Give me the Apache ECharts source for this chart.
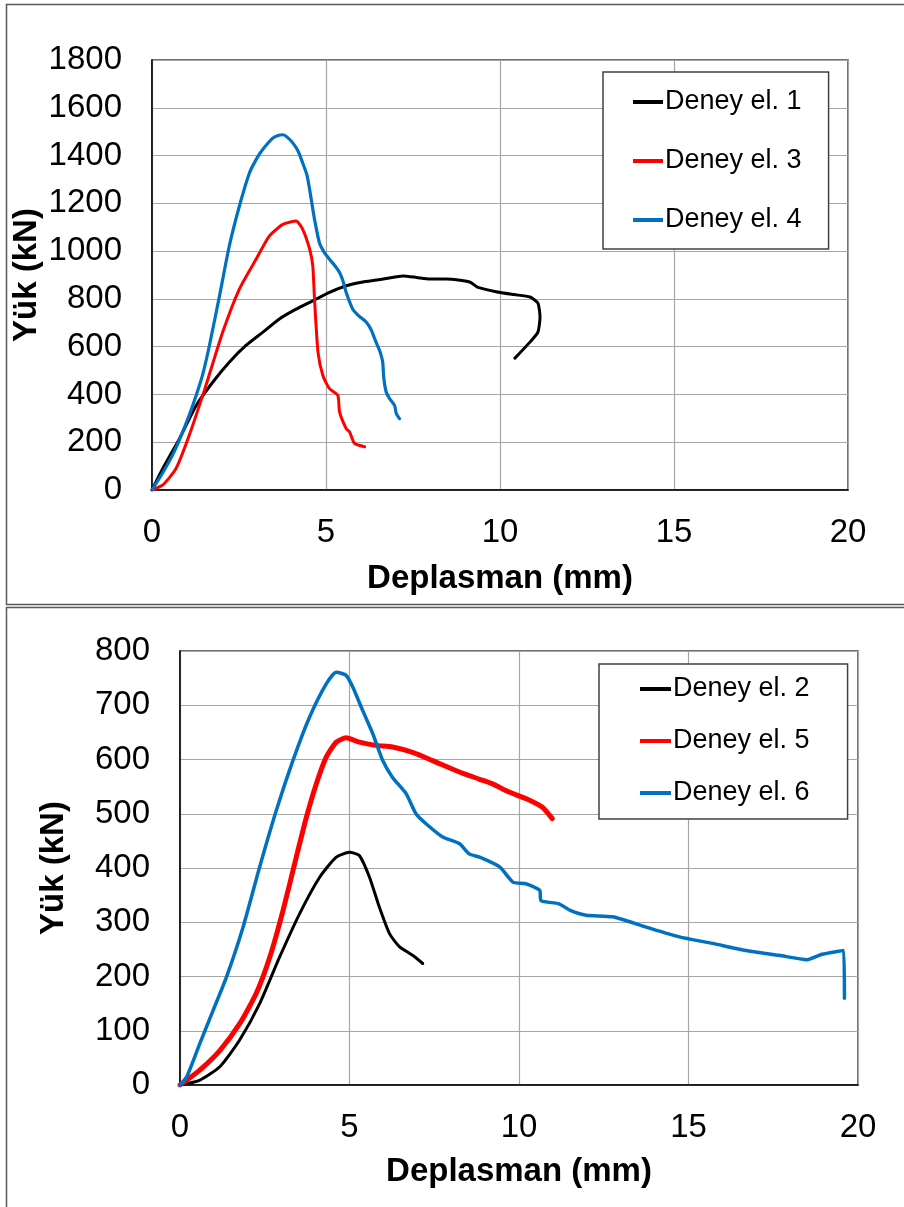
<!DOCTYPE html>
<html>
<head>
<meta charset="utf-8">
<script src="https://cdn.jsdelivr.net/npm/echarts@6/dist/echarts.min.js"></script>
<style>
html,body{margin:0;padding:0;background:#fff;}
#c{width:904px;height:1207px;}
</style>
</head>
<body>
<div id="c"></div>
<script>
// ---------- data ----------
const xTicks = [0, 5, 10, 15, 20];
const xTitle = 'Deplasman (mm)';
const yTitle = 'Yük (kN)';

// Top chart
const topNames = ['Deney el. 1', 'Deney el. 3', 'Deney el. 4'];
const deney1 = [[0,0],[0.31,90],[0.79,215],[1.27,354],[1.75,452],[2.22,535],[2.70,605],[3.18,660],[3.66,716],[4.14,757],[4.62,792],[5.10,827],[5.58,855],[6.06,871],[6.40,878],[6.73,885],[7.21,896],[7.60,890],[7.98,883],[8.46,883],[9.13,871],[9.37,848],[9.89,830],[10.40,818],[10.86,808],[11.09,782],[11.15,724],[11.09,661],[10.86,619],[10.43,552]];
const deney3 = [[0,0],[0.31,21],[0.69,90],[1.07,229],[1.55,438],[2.03,660],[2.51,841],[2.99,966],[3.37,1063],[3.76,1112],[4.14,1126],[4.33,1091],[4.53,1008],[4.62,938],[4.67,799],[4.77,577],[4.91,479],[5.10,424],[5.34,396],[5.39,327],[5.58,257],[5.68,243],[5.82,195],[6.11,181]];
const deney4 = [[0,0],[0.30,70],[0.59,146],[0.90,250],[1.17,354],[1.45,480],[1.65,605],[1.95,820],[2.22,1021],[2.51,1188],[2.80,1327],[3.00,1385],[3.18,1425],[3.47,1473],[3.62,1484],[3.76,1487],[3.90,1475],[4.05,1452],[4.20,1418],[4.33,1369],[4.45,1320],[4.53,1258],[4.60,1195],[4.67,1133],[4.81,1035],[4.95,995],[5.10,966],[5.25,940],[5.39,910],[5.50,870],[5.58,827],[5.77,757],[5.95,728],[6.16,702],[6.30,670],[6.44,618],[6.55,580],[6.63,535],[6.66,470],[6.73,410],[6.83,382],[6.97,354],[7.02,320],[7.11,299]];
const topYTicks = [0, 200, 400, 600, 800, 1000, 1200, 1400, 1600, 1800];

// Bottom chart
const botNames = ['Deney el. 2', 'Deney el. 5', 'Deney el. 6'];
const deney2 = [[0,0],[0.59,9],[1.18,34],[1.76,83],[2.35,150],[2.94,236],[3.53,316],[4.12,383],[4.61,420],[5.00,429],[5.29,423],[5.59,383],[5.88,328],[6.18,279],[6.47,255],[6.86,239],[7.16,224]];
const deney5 = [[0,0],[0.59,28],[1.18,64],[1.76,113],[2.25,169],[2.65,236],[3.04,322],[3.43,420],[3.73,494],[4.02,555],[4.31,604],[4.61,632],[4.90,640],[5.29,632],[5.78,626],[6.27,623],[6.86,613],[7.45,598],[8.24,577],[8.82,564],[9.22,555],[9.71,540],[10.20,528],[10.69,512],[10.98,491]];
const deney6 = [[0,0],[0.20,15],[0.59,77],[0.98,138],[1.37,199],[1.86,291],[2.35,402],[2.84,506],[3.33,598],[3.82,678],[4.31,739],[4.61,761],[4.90,755],[5.10,733],[5.39,690],[5.69,647],[5.98,598],[6.27,567],[6.67,537],[6.96,500],[7.25,482],[7.75,457],[8.24,445],[8.53,426],[8.84,420],[9.43,402],[9.82,374],[10.20,371],[10.61,359],[10.65,340],[11.18,334],[11.51,322],[11.98,313],[12.76,310],[13.75,291],[14.73,273],[15.71,261],[16.69,248],[17.67,239],[18.50,231],[18.94,241],[19.58,248],[19.60,160]];
const botYTicks = [0, 100, 200, 300, 400, 500, 600, 700, 800];

// ---------- chart ----------
const FONT = '"Liberation Sans", Arial, sans-serif';
const colors = ['#000000', '#FF0000', '#0070C0'];

function xAxisCfg(gridIndex, nameGap) {
  return {
    type: 'value', gridIndex, min: xTicks[0], max: xTicks[xTicks.length - 1],
    interval: xTicks[1] - xTicks[0],
    name: xTitle, nameLocation: 'middle', nameGap, nameMoveOverlap: false,
    nameTextStyle: {fontFamily: FONT, fontSize: 33, fontWeight: 'bold', color: '#000'},
    axisLine: {show: true, lineStyle: {color: '#000', width: 1.5}},
    axisTick: {show: false},
    axisLabel: {fontFamily: FONT, fontSize: 33, color: '#000', margin: 26, formatter: v => String(v)},
    splitLine: {show: true, lineStyle: {color: '#A6A6A6', width: 1.2}}
  };
}
function yAxisCfg(gridIndex, ticks, nameGap) {
  return {
    type: 'value', gridIndex, min: ticks[0], max: ticks[ticks.length - 1],
    interval: ticks[1] - ticks[0],
    name: yTitle, nameLocation: 'middle', nameGap, nameRotate: 90, nameMoveOverlap: false,
    nameTextStyle: {fontFamily: FONT, fontSize: 33, fontWeight: 'bold', color: '#000'},
    axisLine: {show: true, lineStyle: {color: '#000', width: 1.5}},
    axisTick: {show: false},
    axisLabel: {fontFamily: FONT, fontSize: 33, color: '#000', margin: 30, formatter: v => String(v)},
    splitLine: {show: true, lineStyle: {color: '#A6A6A6', width: 1.2}}
  };
}
function lineSeries(name, data, idx, color, width) {
  return {
    type: 'line', name, data, xAxisIndex: idx, yAxisIndex: idx,
    showSymbol: false, symbol: 'none', smooth: 0.2, animation: false,
    lineStyle: {color, width, cap: 'round', join: 'round'},
    itemStyle: {color}
  };
}

const chart = echarts.init(document.getElementById('c'), null, {renderer: 'canvas'});
chart.setOption({
  backgroundColor: '#fff',
  animation: false,
  graphic: [
    {type: 'rect', shape: {x: 6.5, y: 4.5, width: 920, height: 600}, style: {fill: 'none', stroke: '#595959', lineWidth: 1.5}, z: -10},
    {type: 'rect', shape: {x: 6.5, y: 607.5, width: 920, height: 620}, style: {fill: 'none', stroke: '#595959', lineWidth: 1.5}, z: -10}
  ],
  grid: [
    {left: 152, top: 60, width: 696, height: 430, show: true, borderColor: '#404040', borderWidth: 1.5, backgroundColor: 'transparent', containLabel: false, outerBoundsMode: 'none'},
    {left: 180, top: 651, width: 678, height: 434, show: true, borderColor: '#404040', borderWidth: 1.5, backgroundColor: 'transparent', containLabel: false, outerBoundsMode: 'none'}
  ],
  xAxis: [xAxisCfg(0, 72), xAxisCfg(1, 70)],
  yAxis: [yAxisCfg(0, topYTicks, 109), yAxisCfg(1, botYTicks, 110)],
  legend: [
    {
      data: topNames, orient: 'vertical', left: 603, top: 72,
      backgroundColor: '#fff', borderColor: '#404040', borderWidth: 1.5,
      padding: [15, 27, 14, 30], itemGap: 29, itemWidth: 30, itemHeight: 4,
      icon: 'rect', textStyle: {fontFamily: FONT, fontSize: 27, color: '#000', lineHeight: 30, padding: [0, 0, 0, -3]}
    },
    {
      data: botNames, orient: 'vertical', left: 599, top: 664,
      backgroundColor: '#fff', borderColor: '#404040', borderWidth: 1.5,
      padding: [10, 38, 11, 41], itemGap: 22, itemWidth: 31, itemHeight: 4,
      icon: 'rect', textStyle: {fontFamily: FONT, fontSize: 27, color: '#000', lineHeight: 30, padding: [0, 0, 0, -3]}
    }
  ],
  series: [
    lineSeries(topNames[0], deney1, 0, colors[0], 3),
    lineSeries(topNames[1], deney3, 0, colors[1], 3),
    lineSeries(topNames[2], deney4, 0, colors[2], 3.2),
    lineSeries(botNames[0], deney2, 1, colors[0], 3),
    lineSeries(botNames[1], deney5, 1, colors[1], 5),
    lineSeries(botNames[2], deney6, 1, colors[2], 3.5)
  ]
});
</script>
</body>
</html>
